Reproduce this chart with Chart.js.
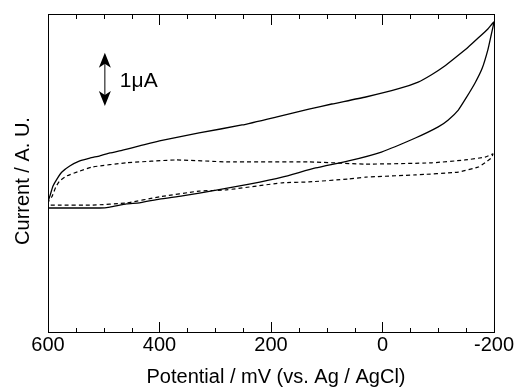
<!DOCTYPE html>
<html>
<head>
<meta charset="utf-8">
<script src="https://cdn.jsdelivr.net/npm/chart.js@4"></script>
<style>
  html, body { margin: 0; padding: 0; background: #fff; }
</style>
</head>
<body>
<canvas id="cv" width="515" height="389"></canvas>
<script>
/* Data: potential (mV) and current (A.U.) */
const solidE = [600, 599, 596, 591, 584, 575, 561, 543, 525, 507, 489, 466, 436, 400, 329, 252, 191, 132, 91, 30, -29, -64, -88, -113, -136, -154, -172, -189, -200,
                -195, -189, -179, -166, -150, -136, -118, -100, -59, 2, 61, 120, 180, 239, 298, 359, 400, 436, 459, 489, 507, 543, 579, 600];
const solidI = [39.0, 41.5, 43.1, 45.9, 48.1, 50.3, 52.2, 53.8, 54.7, 55.4, 56.3, 57.2, 58.5, 60.1, 62.6, 65.1, 67.6, 70.1, 71.7, 73.9, 76.5, 78.6, 80.9, 83.8, 87.0, 89.6, 92.5, 95.3, 97.5,
                93.4, 88.7, 83.0, 78.3, 73.6, 69.8, 66.7, 64.5, 61.0, 56.6, 53.8, 51.6, 48.7, 46.5, 44.6, 42.8, 41.8, 40.6, 40.3, 39.3, 39.0, 39.0, 39.0, 39.0];

const dashE = [600, 598, 593, 586, 579, 566, 543, 520, 459, 370, 280, 132, 30, -88, -148, -184, -198,
               -195, -184, -172, -136, -59, 30, 61, 132, 180, 280, 329, 400, 459, 520, 579, 600];
const dashI = [40.3, 41.5, 42.5, 45.6, 47.5, 49.1, 50.6, 51.9, 53.2, 54.1, 53.5, 53.5, 52.8, 53.2, 54.1, 55.0, 56.0,
               54.7, 53.2, 51.9, 50.3, 49.4, 48.7, 48.1, 47.2, 46.9, 44.7, 44.3, 42.5, 40.6, 39.9, 39.9, 39.9];

/* Scale bar: 1 uA */
const barE = 498;
const barI = [71.1, 87.8];
const barLabel = "1\u03bcA";

const xTicks = [-200, -150, -100, -50, 0, 50, 100, 150, 200, 250, 300, 350, 400, 450, 500, 550, 600];
const xTitle = "Potential / mV (vs. Ag / AgCl)";
const yTitle = "Current / A. U.";

const FONT = "'Liberation Sans', Arial, Helvetica, sans-serif";

const toPts = (xs, ys) => xs.map((x, i) => ({ x, y: ys[i] }));

/* frame, inward ticks, axis titles and scale bar */
const decor = {
    id: "decor",
    afterDatasetsDraw(chart) {
        const { ctx, chartArea: a, scales: { x, y } } = chart;
        ctx.save();
        ctx.strokeStyle = "#000";
        ctx.fillStyle = "#000";
        ctx.lineWidth = 1;
        ctx.strokeRect(a.left + 0.5, a.top + 0.5, a.right - a.left, a.bottom - a.top);

        ctx.beginPath();
        xTicks.forEach(v => {
            const px = Math.round(x.getPixelForValue(v)) + 0.5;
            const major = v % 200 === 0;
            ctx.moveTo(px, a.bottom);
            ctx.lineTo(px, a.bottom - (major ? 10 : 4));
            ctx.moveTo(px, a.top);
            ctx.lineTo(px, a.top + (major ? 11 : 5));
        });
        ctx.stroke();

        // axis titles
        ctx.font = "20px " + FONT;
        ctx.textAlign = "center";
        ctx.textBaseline = "middle";
        ctx.fillText(xTitle, (a.left + a.right) / 2 + 5, 377);
        ctx.save();
        ctx.translate(23, (a.top + a.bottom) / 2 + 8);
        ctx.rotate(-Math.PI / 2);
        ctx.fillText(yTitle, 0, 0);
        ctx.restore();

        // double arrow
        const bx = x.getPixelForValue(barE);
        const y1 = y.getPixelForValue(barI[1]);
        const y2 = y.getPixelForValue(barI[0]);
        ctx.beginPath();
        ctx.moveTo(bx, y1 + 8);
        ctx.lineTo(bx, y2 - 8);
        ctx.stroke();
        [[y1, 1], [y2, -1]].forEach(([ty, d]) => {
            ctx.beginPath();
            ctx.moveTo(bx, ty);
            ctx.lineTo(bx - 6, ty + d * 15);
            ctx.lineTo(bx, ty + d * 11);
            ctx.lineTo(bx + 6, ty + d * 15);
            ctx.closePath();
            ctx.fill();
        });

        ctx.font = "21px " + FONT;
        ctx.textBaseline = "alphabetic";
        ctx.textAlign = "left";
        ctx.fillText(barLabel, bx + 15, (y1 + y2) / 2 + 8);
        ctx.restore();
    }
};

new Chart(document.getElementById("cv"), {
    type: "scatter",
    data: {
        datasets: [
            {
                data: toPts(solidE, solidI),
                showLine: true,
                borderColor: "#000",
                borderWidth: 1.3,
                pointRadius: 0,
                tension: 0.15
            },
            {
                data: toPts(dashE, dashI),
                showLine: true,
                borderColor: "#000",
                borderWidth: 1.2,
                borderDash: [4, 3],
                pointRadius: 0,
                tension: 0.15
            }
        ]
    },
    options: {
        responsive: false,
        animation: false,
        layout: { padding: { top: 14, right: 19, left: 0, bottom: 0 } },
        plugins: { legend: { display: false }, tooltip: { enabled: false } },
        scales: {
            x: {
                type: "linear",
                reverse: true,
                min: -200,
                max: 600,
                grid: { display: false, drawTicks: false },
                border: { display: false },
                ticks: { stepSize: 200, padding: 1, color: "#000", font: { family: FONT, size: 20 } },
                afterFit: s => { s.height = 57; }
            },
            y: {
                min: 0,
                max: 100,
                grid: { display: false, drawTicks: false },
                border: { display: false },
                ticks: { display: false },
                afterFit: s => { s.width = 48; }
            }
        }
    },
    plugins: [decor]
});
</script>
</body>
</html>
